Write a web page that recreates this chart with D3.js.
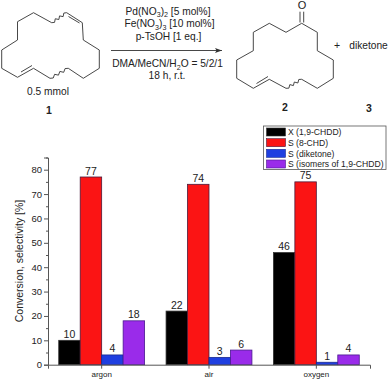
<!DOCTYPE html>
<html><head><meta charset="utf-8">
<script src="https://cdn.jsdelivr.net/npm/d3@7/dist/d3.min.js"></script>
<style>html,body{margin:0;padding:0;background:#fff}svg{display:block}text{font-family:"Liberation Sans",Arial,sans-serif;fill:#222}</style>
</head><body><svg id="c" width="390" height="382"></svg>
<script>
const categories = ["argon","air","oxygen"];
const seriesNames = ["X (1,9-CHDD)","S (8-CHD)","S (diketone)","S (isomers of 1,9-CHDD)"];
const seriesColors = ["#000000","#fb1414","#1f3fe0","#9a2bea"];
const seriesEdges = ["#333333","#4a1a3a","#1a2a90","#4a1a90"];
const xConversion = [10,22,46];
const s8chd = [77,74,75];
const sDiketone = [4,3,1];
const sIsomers = [18,6,4];
const yTicks = [0,10,20,30,40,50,60,70,80];
const yMinorTicks = [5,15,25,35,45,55,65,75,85];
const allSeries = [xConversion,s8chd,sDiketone,sIsomers];

const ring1Top = [[17.5,40],[17.5,21.7],[33.5,12.7],[51.7,22.7]];
const ring1TopB = [[66.7,12.7],[82.3,22.7],[83.3,40],[99.3,50],[99.3,68.3],[83.3,78.3],[68.3,68.3]];
const ring1Bottom = [[50,78.3],[33.5,68.3],[17.5,77.3],[1.7,68.3],[1.7,50],[17.5,40]];
const ring2A = [[301.7,23.3],[317.3,32.3],[317.3,50.7],[333.3,60],[333.3,78.3],[317.3,88.3],[301.7,79.3]];
const ring2B = [[286,88.3],[269.3,79.3],[253.3,88.3],[236.7,78.3],[236.7,60],[253.3,50.7],[253.3,32.3],[269.3,23.3],[286,32.3],[301.7,23.3]];

const svg = d3.select("#c");
const molecule = svg.append("g").attr("fill","none").attr("stroke","#333").attr("stroke-width",0.9);
const line = d3.line();
function wavy(a,b){
  const n=7, pts=[], dx=b[0]-a[0], dy=b[1]-a[1], L=Math.hypot(dx,dy);
  for(let i=0;i<=n;i++){const s=i%2?1.3:-1.3, e=(i===0||i===n)?0:s;
    pts.push([a[0]+dx*i/n-dy/L*e,a[1]+dy*i/n+dx/L*e]);}
  return pts;
}
[ring1TopB,ring1Bottom,ring1Top,ring2A,ring2B,
 wavy(ring1Top[3],ring1TopB[0]),wavy(ring1TopB[6],ring1Bottom[0]),wavy(ring2A[6],ring2B[0]),
 [[68.5,16.5],[79.5,23]],
 [[21,72],[32,65.5]],
 [[256.5,83.5],[268,76.5]],
 [[300,11.7],[300,22.5]],[[303.7,11.7],[303.7,22.5]]
].forEach(p=>molecule.append("path").attr("d",line(p)));

function rich(x,y,parts,size,anchor){
  const t=svg.append("text").attr("x",x).attr("y",y).attr("font-size",size).attr("text-anchor",anchor||"middle");
  let shift=0;
  parts.forEach(p=>{
    const sub=Array.isArray(p), want=sub?2.5:0;
    t.append("tspan").attr("dy",want-shift).attr("font-size",sub?size*0.7:size).text(sub?p[0]:p);
    shift=want;
  });
  return t;
}
rich(168,14.5,["Pd(NO",["3"],")",["2"]," [5 mol%]"],10.2);
rich(169.5,27,["Fe(NO",["3"],")",["3"]," [10 mol%]"],10.2);
rich(168.5,40,["p-TsOH [1 eq.]"],10.2);
rich(167.5,67,["DMA/MeCN/H",["2"],"O = 5/2/1"],10.2);
rich(167,78.5,["18 h, r.t."],10.2);
rich(48,95,["0.5 mmol"],10.2);
rich(49,114,["1"],10.5).attr("font-weight","bold");
rich(285,111,["2"],10.5).attr("font-weight","bold");
rich(369,112,["3"],10.5).attr("font-weight","bold");
rich(302,9,["O"],11);
rich(337,49,["+"],10.5);
rich(368.5,49,["diketone"],10.2);
const arrowLine=[[111,50.5],[222,50.5]];
svg.append("path").attr("d",line(arrowLine)).attr("stroke","#333").attr("stroke-width",0.9).attr("fill","none");
svg.append("path").attr("d",line([[222,50.5],[215,48],[216.5,50.5],[215,53]])+"Z").attr("fill","#333");

const x = d3.scaleBand().domain(categories).range([48,370]);
const inner = d3.scaleBand().domain(d3.range(4)).range([x.bandwidth()*0.1,x.bandwidth()*0.9]);
const y = d3.scaleLinear().domain([0,85]).range([364.7,157.5]);

allSeries.forEach((vals,si)=>{
  svg.append("g").selectAll("rect").data(vals).join("rect")
    .attr("x",(d,i)=>x(categories[i])+inner(si))
    .attr("y",d=>y(d))
    .attr("width",inner.bandwidth())
    .attr("height",d=>y(0)-y(d))
    .attr("fill",seriesColors[si])
    .attr("stroke",seriesEdges[si]).attr("stroke-width",0.8);
  svg.append("g").selectAll("text").data(vals).join("text")
    .attr("x",(d,i)=>x(categories[i])+inner(si)+inner.bandwidth()/2)
    .attr("y",d=>y(d)-2.5)
    .attr("text-anchor","middle").attr("font-size",10.5)
    .text(d=>d);
});

const axisColor="#555";
const gy=svg.append("g").attr("transform","translate(48,0)")
  .call(d3.axisLeft(y).tickValues(yTicks).tickSize(4).tickPadding(2).tickFormat(d3.format("d")));
const gyMinor=svg.append("g").attr("transform","translate(48,0)")
  .call(d3.axisLeft(y).tickValues(yMinorTicks).tickSize(2).tickFormat(""));
gyMinor.select(".domain").remove();
const gx=svg.append("g").attr("transform","translate(0,364.7)")
  .call(d3.axisBottom(x).tickSizeOuter(0).tickSize(4).tickPadding(3));
[gy,gyMinor,gx].forEach(g=>{
  g.selectAll("path,line").attr("stroke",axisColor).attr("stroke-width",1);
  g.selectAll("text").attr("font-family",'"Liberation Sans",Arial,sans-serif').attr("fill","#333");
});
gy.selectAll("text").attr("font-size",9.5);
gx.selectAll("text").attr("font-size",8);

svg.append("text").attr("transform","translate(23,261) rotate(-90)")
  .attr("text-anchor","middle").attr("font-size",10.5).text("Conversion, selectivity [%]");

const legend=svg.append("g");
legend.append("rect").attr("x",263.5).attr("y",126).attr("width",122.5).attr("height",43.5)
  .attr("fill","#fff").attr("stroke","#555").attr("stroke-width",0.8);
const rowY=d3.scalePoint().domain(d3.range(4)).range([132,164]);
seriesNames.forEach((n,i)=>{
  legend.append("rect").attr("x",266.5).attr("y",rowY(i)-4).attr("width",19).attr("height",8)
    .attr("fill",seriesColors[i]).attr("stroke",seriesEdges[i]).attr("stroke-width",0.6);
  legend.append("text").attr("x",288).attr("y",rowY(i)+3.2).attr("font-size",8.6).text(n);
});
</script></body></html>
